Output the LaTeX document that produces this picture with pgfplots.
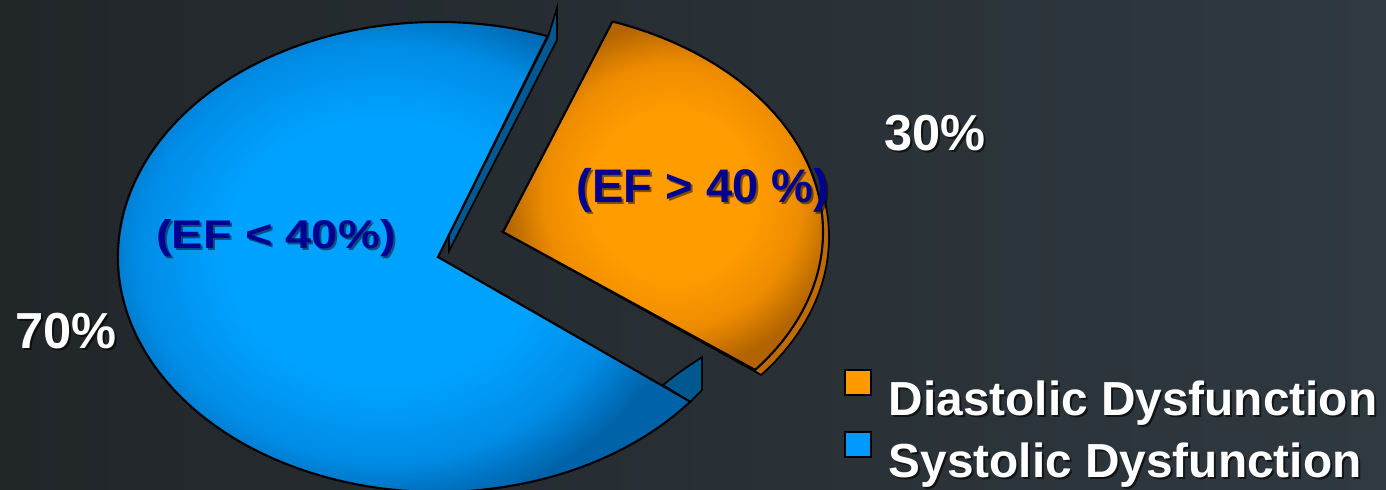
\documentclass[border=0pt]{standalone}
\usepackage{pgfplots}
\pgfplotsset{compat=1.18}
\usepackage{pgfplotstable}
\usepackage{fontspec}
\setmainfont{Liberation Sans}
\definecolor{bgL}{RGB}{33,38,41}
\definecolor{bgR}{RGB}{47,57,64}
\definecolor{blueL}{RGB}{0,162,255}
\definecolor{blueM}{RGB}{0,140,230}
\definecolor{blueD}{RGB}{0,98,168}
\definecolor{blueW}{RGB}{0,88,145}
\definecolor{oraL}{RGB}{255,156,0}
\definecolor{oraM}{RGB}{238,140,0}
\definecolor{oraD}{RGB}{178,100,0}
\definecolor{oraW}{RGB}{190,108,0}
\definecolor{navy}{RGB}{0,0,145}
\definecolor{legO}{RGB}{255,153,0}
\definecolor{legB}{RGB}{0,153,255}
\pgfdeclareradialshading{blueshade}{\pgfpoint{0bp}{0bp}}{color(0bp)=(blueL); color(13bp)=(blueL); color(20bp)=(blueM); color(25bp)=(blueD); color(50bp)=(blueD)}
\pgfdeclareradialshading{orashade}{\pgfpoint{0bp}{0bp}}{color(0bp)=(oraL); color(12bp)=(oraL); color(19bp)=(oraM); color(25bp)=(oraD); color(50bp)=(oraD)}
\pgfplotstableread{
label value
Diastolic 30
Systolic 70
}\piedata
\begin{document}
\begin{tikzpicture}
\pgfplotstablegetelem{0}{value}\of\piedata \let\vD\pgfplotsretval
\pgfplotstablegetelem{1}{value}\of\piedata \let\vS\pgfplotsretval
\pgfmathsetmacro\aStart{70}
\pgfmathsetmacro\aOra{\aStart-3.6*\vD}
\pgfmathsetmacro\aBlu{\aStart+3.6*\vS}
\newcommand\lbl[1]{\fontsize{13.4}{16}\selectfont\bfseries #1}
\newcommand\leg[1]{\fontsize{13.6}{16}\selectfont\bfseries #1}
\newcommand\pct[1]{\fontsize{14.4}{16}\selectfont\bfseries #1}
\begin{axis}[scale only axis, width=13.86cm, height=4.89cm,
  xmin=0, xmax=1386, ymin=0, ymax=489,
  axis lines=none, ticks=none, clip=false,
  axis background/.style={shade, left color=bgL, right color=bgR}]
% orange wall (depth)
\fill[oraW, draw=black, line width=0.5pt]
  ({509+320*cos(\aOra)},{252+224*sin(\aOra)})
  arc[start angle=\aOra, end angle=10, x radius=320, y radius=224]
  -- (503,257) -- cycle;
% blue walls
\fill[blueW, draw=black, line width=0.5pt]
  (548,452) -- (557,481) -- (557,449) -- (449,238) -- (449,254) -- cycle;
\fill[blueW, draw=black, line width=0.5pt]
  (663,104) .. controls (680,118) and (692,125) .. (702,132) -- (702,99) -- (690,87) -- cycle;
% orange face
\shade[shading=orashade, draw=black, line width=0.6pt]
  (503,257) -- ({503+320*cos(\aOra)},{257+224*sin(\aOra)})
  arc[start angle=\aOra, end angle=\aStart, x radius=320, y radius=224]
  -- cycle;
% blue face
\shade[shading=blueshade, draw=black, line width=0.6pt]
  (438,232) -- ({438+320*cos(\aStart)},{232+235*sin(\aStart)})
  arc[start angle=\aStart, end angle=\aBlu, x radius=320, y radius=235]
  -- cycle;
% slice labels
\node[black, opacity=0.5] at (705,297) {\lbl{(EF > 40 \%)}};
\node[navy] at (703,299) {\lbl{(EF > 40 \%)}};
\node[black, opacity=0.5, yscale=0.85] at (278,249) {\lbl{(EF < 40\%)}};
\node[navy, yscale=0.85] at (276,251) {\lbl{(EF < 40\%)}};
% percentages
\node[black, opacity=0.6] at (937,354) {\pct{30\%}};
\node[white] at (935,356) {\pct{30\%}};
\node[black, opacity=0.6] at (68,156) {\pct{70\%}};
\node[white] at (66,158) {\pct{70\%}};
% legend
\fill[legO, draw=black, line width=0.6pt] (845,94) rectangle (871,119);
\fill[legB, draw=black, line width=0.6pt] (845,32) rectangle (871,57);
\node[black, opacity=0.6, anchor=base west, inner sep=0pt] at (890,72) {\leg{Diastolic Dysfunction}};
\node[white, anchor=base west, inner sep=0pt] at (888,74) {\leg{Diastolic Dysfunction}};
\node[black, opacity=0.6, anchor=base west, inner sep=0pt] at (890,10) {\leg{Systolic Dysfunction}};
\node[white, anchor=base west, inner sep=0pt] at (888,12) {\leg{Systolic Dysfunction}};
\end{axis}
\pgfresetboundingbox
\path (current axis.south west) rectangle (current axis.north east);
\end{tikzpicture}
\end{document}
